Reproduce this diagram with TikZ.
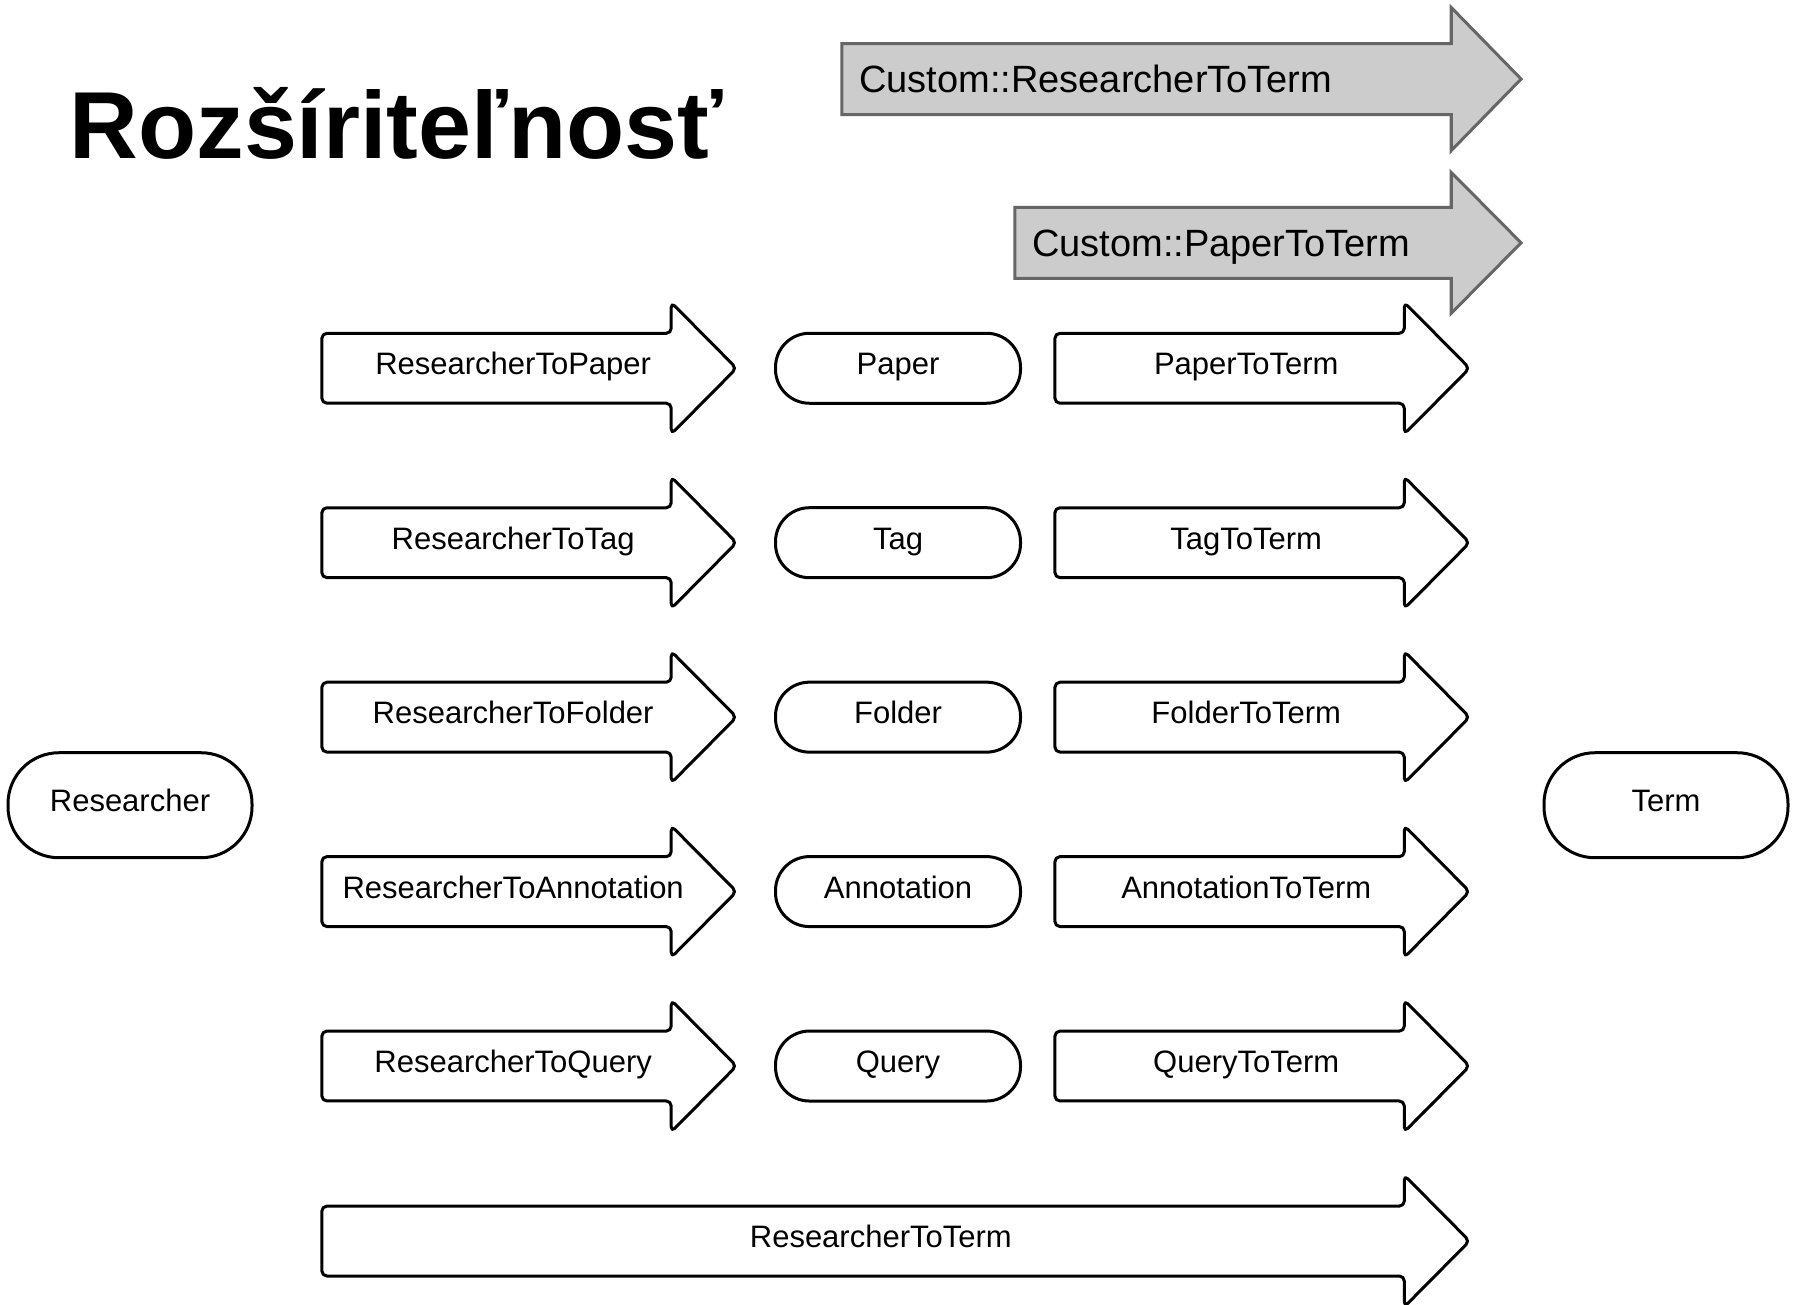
\documentclass[tikz,border=0pt]{standalone}
\usepackage{fontspec}
\setmainfont{Liberation Sans}
\definecolor{grayfill}{HTML}{CCCCCC}
\definecolor{graystroke}{HTML}{666666}
\newcommand\blockarrow[7]{% style, left x, head x, tip x, y centre, half body, half head
  \draw[#1] (#2,#5-#6) -- (#3,#5-#6) -- (#3,#5-#7) -- (#4,#5) -- (#3,#5+#7) -- (#3,#5+#6) -- (#2,#5+#6) -- cycle;}
\begin{document}
\begin{tikzpicture}[x=1.1454pt,y=-1.1454pt,
  whitearrow/.style={draw=black, line width=3pt, fill=white, rounded corners=5pt, line join=round},
  grayarrow/.style={draw=graystroke, line width=3pt, fill=grayfill, line join=miter},
  lbl/.style={font=\fontsize{31}{36}\selectfont, anchor=base, inner sep=0pt},
  customlbl/.style={font=\fontsize{38}{43}\selectfont, anchor=base west, inner sep=0pt},
  pill/.style={draw=black, line width=3pt, fill=white, inner sep=0pt, minimum width=245pt, minimum height=70pt, rounded corners=34pt},
  bigpill/.style={draw=black, line width=3pt, fill=white, inner sep=0pt, minimum width=244pt, minimum height=105pt, rounded corners=51pt}]
\useasboundingbox (0,0) rectangle (1568,1139);
\fill[white] (0,0) rectangle (1568,1139);

% title
\node[anchor=base west, inner sep=0pt, font=\bfseries\fontsize{95.2}{110}\selectfont] (title) at (60.5,138) {Rozšíriteľnosť};

% custom grey arrows
\blockarrow{grayarrow}{735}{1267}{1328}{69}{31}{62.5}
\node[customlbl] (customrt) at (750,81) {Custom::ResearcherToTerm};
\blockarrow{grayarrow}{886}{1267}{1328}{212}{31}{61.5}
\node[customlbl] (custompt) at (901,224) {Custom::PaperToTerm};

% end points
\node[bigpill] (researcher) at (113.5,703) {};
\node[lbl] (researcherlbl) at (113.5,708.5) {Researcher};
\node[bigpill] (term) at (1454.5,703) {};
\node[lbl] (termlbl) at (1454.5,708.5) {Term};

% rows
\foreach \i/\mid/\lt/\rt in {0/Paper/ResearcherToPaper/PaperToTerm,
                              1/Tag/ResearcherToTag/TagToTerm,
                              2/Folder/ResearcherToFolder/FolderToTerm,
                              3/Annotation/ResearcherToAnnotation/AnnotationToTerm,
                              4/Query/ResearcherToQuery/QueryToTerm}{
  \pgfmathsetmacro\yc{321.5+152.3*\i}
  \pgfmathsetmacro\yb{\yc+5.7}
  \blockarrow{whitearrow}{281}{586}{643}{\yc}{30.5}{57.5}
  \node[lbl] (left\i) at (448,\yb) {\lt};
  \node[pill] (mid\i) at (784,\yc) {};
  \node[lbl] (midlbl\i) at (784,\yb) {\mid};
  \blockarrow{whitearrow}{921}{1226}{1283}{\yc}{30.5}{57.5}
  \node[lbl] (right\i) at (1088,\yb) {\rt};
}

% bottom long arrow
\blockarrow{whitearrow}{281}{1226}{1283}{1083.5}{30.5}{57.5}
\node[lbl] (rtt) at (769,1089.2) {ResearcherToTerm};
\end{tikzpicture}
\end{document}
